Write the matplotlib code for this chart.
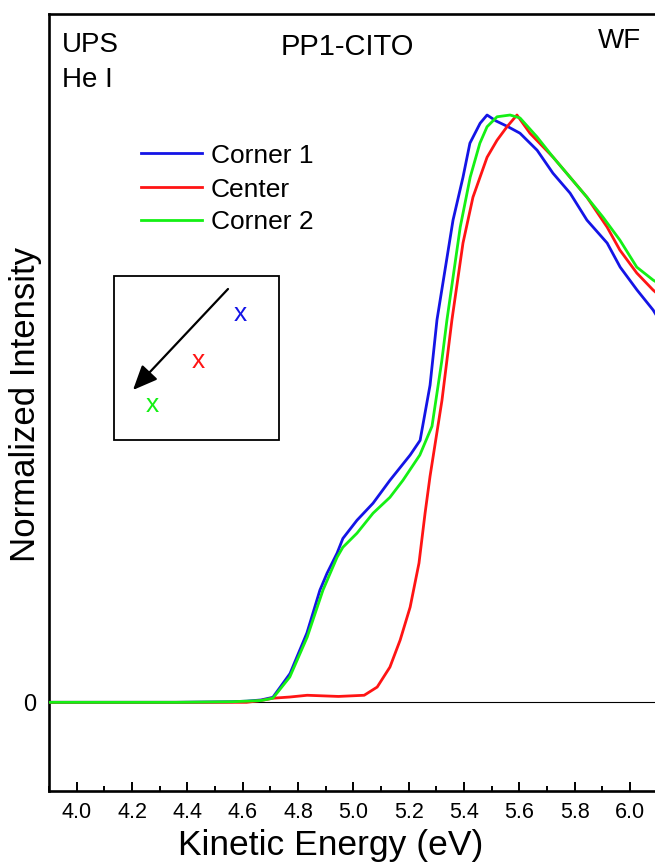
import matplotlib
matplotlib.use("Agg")
import matplotlib.pyplot as plt
from matplotlib.patches import Rectangle, FancyArrowPatch
from matplotlib.lines import Line2D
from matplotlib.ticker import MultipleLocator

plt.rcParams['font.family'] = ['Liberation Sans', 'DejaVu Sans']

# ---- data ----
corner1_E = [3.90, 4.15, 4.36, 4.56, 4.615, 4.666, 4.709, 4.771, 4.832, 4.879, 4.905, 4.941,
             4.962, 5.013, 5.071, 5.132, 5.205, 5.241, 5.277, 5.302, 5.360, 5.396, 5.421,
             5.458, 5.483, 5.515, 5.559, 5.602, 5.664, 5.721, 5.783, 5.844, 5.917, 5.964,
             6.025, 6.083, 6.100]
corner1_I = [0.0, 0.0, 0.0, 0.001, 0.002, 0.004, 0.0085, 0.049, 0.118, 0.191, 0.220, 0.254,
             0.279, 0.310, 0.339, 0.378, 0.421, 0.446, 0.540, 0.651, 0.821, 0.894, 0.952,
             0.986, 1.000, 0.990, 0.980, 0.969, 0.940, 0.901, 0.867, 0.821, 0.782, 0.741,
             0.702, 0.668, 0.655]

center_E = [3.90, 4.15, 4.36, 4.56, 4.614, 4.666, 4.709, 4.770, 4.833, 4.946, 5.039, 5.086,
            5.132, 5.169, 5.205, 5.237, 5.259, 5.277, 5.320, 5.356, 5.396, 5.432, 5.483,
            5.519, 5.555, 5.591, 5.638, 5.722, 5.783, 5.844, 5.917, 5.963, 6.024, 6.083, 6.100]
center_I = [0.0, 0.0, 0.0, 0.0, 0.0, 0.003, 0.007, 0.009, 0.012, 0.010, 0.012, 0.026,
            0.060, 0.106, 0.162, 0.237, 0.322, 0.385, 0.514, 0.651, 0.782, 0.860, 0.928,
            0.957, 0.980, 1.000, 0.969, 0.928, 0.894, 0.860, 0.809, 0.770, 0.731, 0.702, 0.695]

corner2_E = [3.90, 4.15, 4.36, 4.56, 4.615, 4.666, 4.709, 4.770, 4.833, 4.890, 4.941, 4.962,
             5.013, 5.071, 5.132, 5.179, 5.240, 5.284, 5.319, 5.338, 5.386, 5.422, 5.457,
             5.483, 5.519, 5.566, 5.602, 5.663, 5.722, 5.783, 5.844, 5.902, 5.963, 6.024,
             6.083, 6.100]
corner2_I = [0.0, 0.0, 0.0, 0.001, 0.002, 0.003, 0.007, 0.043, 0.111, 0.191, 0.247, 0.264,
             0.288, 0.322, 0.349, 0.378, 0.421, 0.470, 0.580, 0.651, 0.809, 0.894, 0.952,
             0.980, 0.997, 1.000, 0.995, 0.963, 0.928, 0.894, 0.860, 0.826, 0.787, 0.741,
             0.719, 0.714]

series_labels = ["Corner 1", "Center", "Corner 2"]
series_colors = ["#1414e6", "#ff1414", "#14f014"]
x_ticks = [4.0, 4.2, 4.4, 4.6, 4.8, 5.0, 5.2, 5.4, 5.6, 5.8, 6.0]

W, H = 655, 865
fig = plt.figure(figsize=(W / 100, H / 100), dpi=100)
ax_l, ax_r, ax_t, ax_b = 49, 657.8, 14, 790.7
ax = fig.add_axes([ax_l / W, 1 - ax_b / H, (ax_r - ax_l) / W, (ax_b - ax_t) / H])

lines = []
for E, I, lab, col in zip([corner1_E, center_E, corner2_E],
                          [corner1_I, center_I, corner2_I],
                          series_labels, series_colors):
    ln, = ax.plot(E, I, color=col, lw=2.0, label=lab, zorder=3)
    lines.append(ln)

ax.axhline(0, color="black", lw=0.8, zorder=2)

ax.set_xlim(3.9, 6.1)
ax.set_ylim(-0.1505, 1.172)

ax.set_xticks(x_ticks)
ax.set_xticklabels([f"{t:.1f}" for t in x_ticks])
ax.xaxis.set_minor_locator(MultipleLocator(0.1))
ax.set_yticks([0])
ax.set_yticklabels(["0"])
ax.tick_params(axis="x", which="major", direction="in", length=6.5, width=1.4,
               labelsize=15.5, pad=8)
ax.tick_params(axis="x", which="minor", direction="in", length=3.6, width=1.4)
ax.tick_params(axis="y", which="major", length=0, labelsize=17, pad=9)

for s in ["left", "bottom", "top"]:
    ax.spines[s].set_linewidth(1.9)
ax.spines["right"].set_visible(False)

ax.set_xlabel("Kinetic Energy (eV)", fontsize=25.5, va="top")
ax.xaxis.set_label_coords((331 - ax_l) / (ax_r - ax_l), (ax_b - 829) / (ax_b - ax_t))
ax.set_ylabel("Normalized Intensity", fontsize=25)
ax.yaxis.set_label_coords((42 - ax_l) / (ax_r - ax_l), (ax_b - 404) / (ax_b - ax_t))


def fx(px):
    return px / W


def fy(py):
    return 1 - py / H


# legend (drawn at the reference's position)
leg_y = [153.3, 187.3, 220.0]
for ln, yy in zip(lines, leg_y):
    fig.add_artist(Line2D([fx(140.7), fx(201.7)], [fy(yy), fy(yy)], color=ln.get_color(),
                          lw=2.0, transform=fig.transFigure))
    fig.text(fx(210.7), fy(yy + 9.4), ln.get_label(), fontsize=19, va="baseline", ha="left")

fig.text(fx(62), fy(52), "UPS", fontsize=20, va="baseline", ha="left")
fig.text(fx(62), fy(87), "He I", fontsize=20, va="baseline", ha="left")
fig.text(fx(347), fy(55), "PP1-CITO", fontsize=21, va="baseline", ha="center")
fig.text(fx(598), fy(48), "WF", fontsize=20, va="baseline", ha="left")

# inset box with arrow and x markers
box = Rectangle((fx(114), fy(440)), fx(279) - fx(114), fy(275.7) - fy(440),
                transform=fig.transFigure, fill=False, lw=1.3, edgecolor="black")
fig.patches.append(box)
arr = FancyArrowPatch((fx(228), fy(289)), (fx(133), fy(390)), transform=fig.transFigure,
                      arrowstyle="-|>,head_length=15,head_width=6.5", lw=1.6, color="black",
                      mutation_scale=1, shrinkA=0, shrinkB=0)
fig.patches.append(arr)
for (px, py), col in zip([(240, 314), (198, 361), (152, 405)], series_colors):
    fig.text(fx(px), fy(py), "x", color=col, fontsize=19, ha="center", va="center")

fig.savefig("out.png", dpi=100)
